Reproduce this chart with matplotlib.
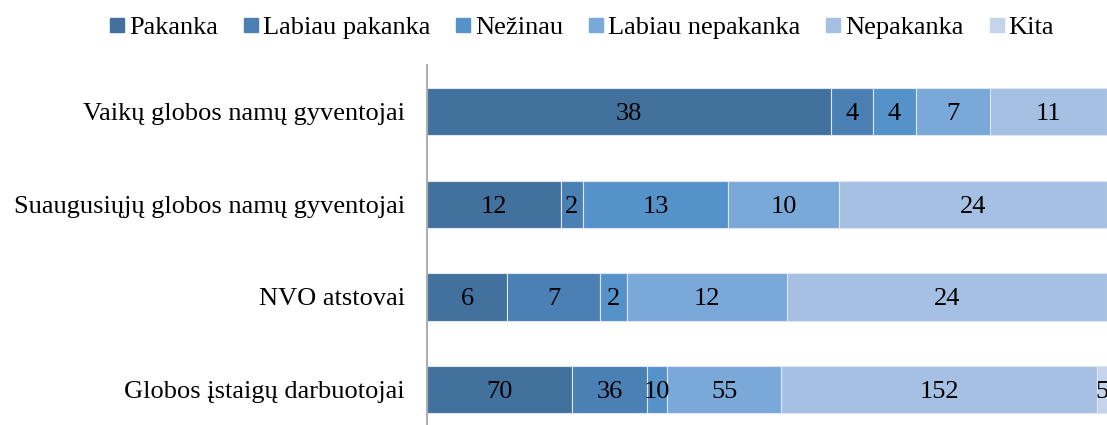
import numpy as np
import matplotlib.pyplot as plt
from matplotlib.lines import Line2D

plt.rcParams['font.family'] = ['Liberation Serif', 'DejaVu Serif']

# Duomenys
grupes = ["Vaikų globos namų gyventojai",
          "Suaugusiųjų globos namų gyventojai",
          "NVO atstovai",
          "Globos įstaigų darbuotojai"]
kategorijos = ["Pakanka", "Labiau pakanka", "Nežinau",
               "Labiau nepakanka", "Nepakanka", "Kita"]
pakanka = [38, 12, 6, 70]
labiau_pakanka = [4, 2, 7, 36]
nezinau = [4, 13, 2, 10]
labiau_nepakanka = [7, 10, 12, 55]
nepakanka = [11, 24, 24, 152]
kita = [0, 0, 0, 5]

spalvos = ["#41719c", "#4a80b4", "#5592c9", "#7aa8d8", "#a5c0e3", "#c4d4eb"]

reiksmes = np.array([pakanka, labiau_pakanka, nezinau,
                     labiau_nepakanka, nepakanka, kita], dtype=float)
sumos = reiksmes.sum(axis=0)
procentai = reiksmes / sumos * 100

FS = 19

fig = plt.figure(figsize=(11.07, 4.25), dpi=100)
ax = fig.add_axes([0.3857, -0.026, 0.6143, 0.873])

y = np.arange(len(grupes))
kaire = np.zeros(len(grupes))
for i, kat in enumerate(kategorijos):
    ax.barh(y, procentai[i], left=kaire, height=0.51, color=spalvos[i],
            edgecolor="#dde6f2", linewidth=0.8, label=kat)
    for j in range(len(grupes)):
        if reiksmes[i, j] > 0:
            ax.text(kaire[j] + procentai[i, j] / 2, y[j], f"{int(reiksmes[i, j])}",
                    ha="center", va="center_baseline", fontsize=FS, color="black",
                    clip_on=False)
    kaire += procentai[i]

ax.set_xlim(0, 100)
ax.set_ylim(3.5, -0.5)
ax.set_yticks(y)
ax.set_yticklabels(grupes, fontsize=FS, va="center_baseline")
ax.tick_params(axis="y", length=0, pad=16)
ax.set_xticks([])
for s in ["top", "right", "bottom"]:
    ax.spines[s].set_visible(False)
ax.spines["left"].set_color("#a6a6a6")
ax.spines["left"].set_linewidth(1.3)

# legendos kvadratėliai
rankenos = [Line2D([], [], marker="s", linestyle="none", markersize=10,
                   markerfacecolor=c, markeredgecolor=c) for c in spalvos]
fig.legend(rankenos, kategorijos, loc="center", bbox_to_anchor=(0.526, 0.935),
           ncol=6, frameon=False, fontsize=FS, handlelength=0.5,
           handletextpad=0.2, columnspacing=1.0)

fig.savefig("out.png", dpi=100)
